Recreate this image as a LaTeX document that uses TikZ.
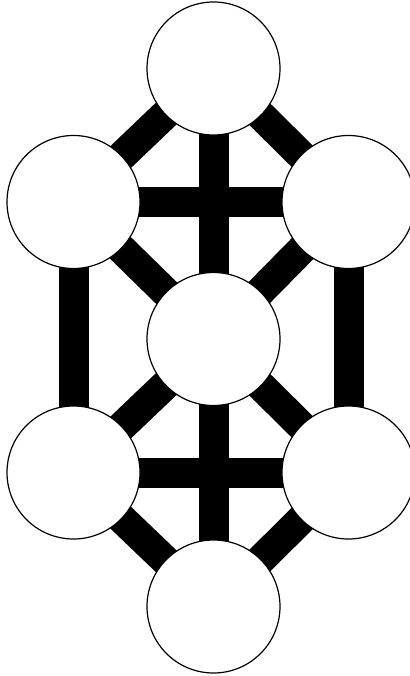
\documentclass[tikz,border=0pt]{standalone}
\usetikzlibrary{backgrounds}
\tikzset{
  sephira/.style={circle, draw=black, fill=white, line width=1.2pt, inner sep=0pt, minimum size=133pt},
  pathbar/.style={line width=30pt, draw=black}
}
\begin{document}
\begin{tikzpicture}[x=1pt,y=-1pt]
\useasboundingbox (0,0) rectangle (409,676);
\node[sephira] (top) at (213.5,68.5) {};
\node[sephira] (lu) at (73.5,202) {};
\node[sephira] (ru) at (348.5,202) {};
\node[sephira] (mid) at (213.5,339) {};
\node[sephira] (ll) at (73.5,472.5) {};
\node[sephira] (rl) at (348.5,472.5) {};
\node[sephira] (bot) at (213.5,606.5) {};
\begin{pgfonlayer}{background}
\draw[pathbar] (top.center) -- (lu.center);
\draw[pathbar] (top.center) -- (ru.center);
\draw[pathbar] (top.center) -- (mid.center);
\draw[pathbar] (lu.center) -- (ru.center);
\draw[pathbar] (lu.center) -- (mid.center);
\draw[pathbar] (ru.center) -- (mid.center);
\draw[pathbar] (lu.center) -- (ll.center);
\draw[pathbar] (ru.center) -- (rl.center);
\draw[pathbar] (mid.center) -- (ll.center);
\draw[pathbar] (mid.center) -- (rl.center);
\draw[pathbar] (mid.center) -- (bot.center);
\draw[pathbar] (ll.center) -- (rl.center);
\draw[pathbar] (ll.center) -- (bot.center);
\draw[pathbar] (rl.center) -- (bot.center);
\end{pgfonlayer}
\end{tikzpicture}
\end{document}
